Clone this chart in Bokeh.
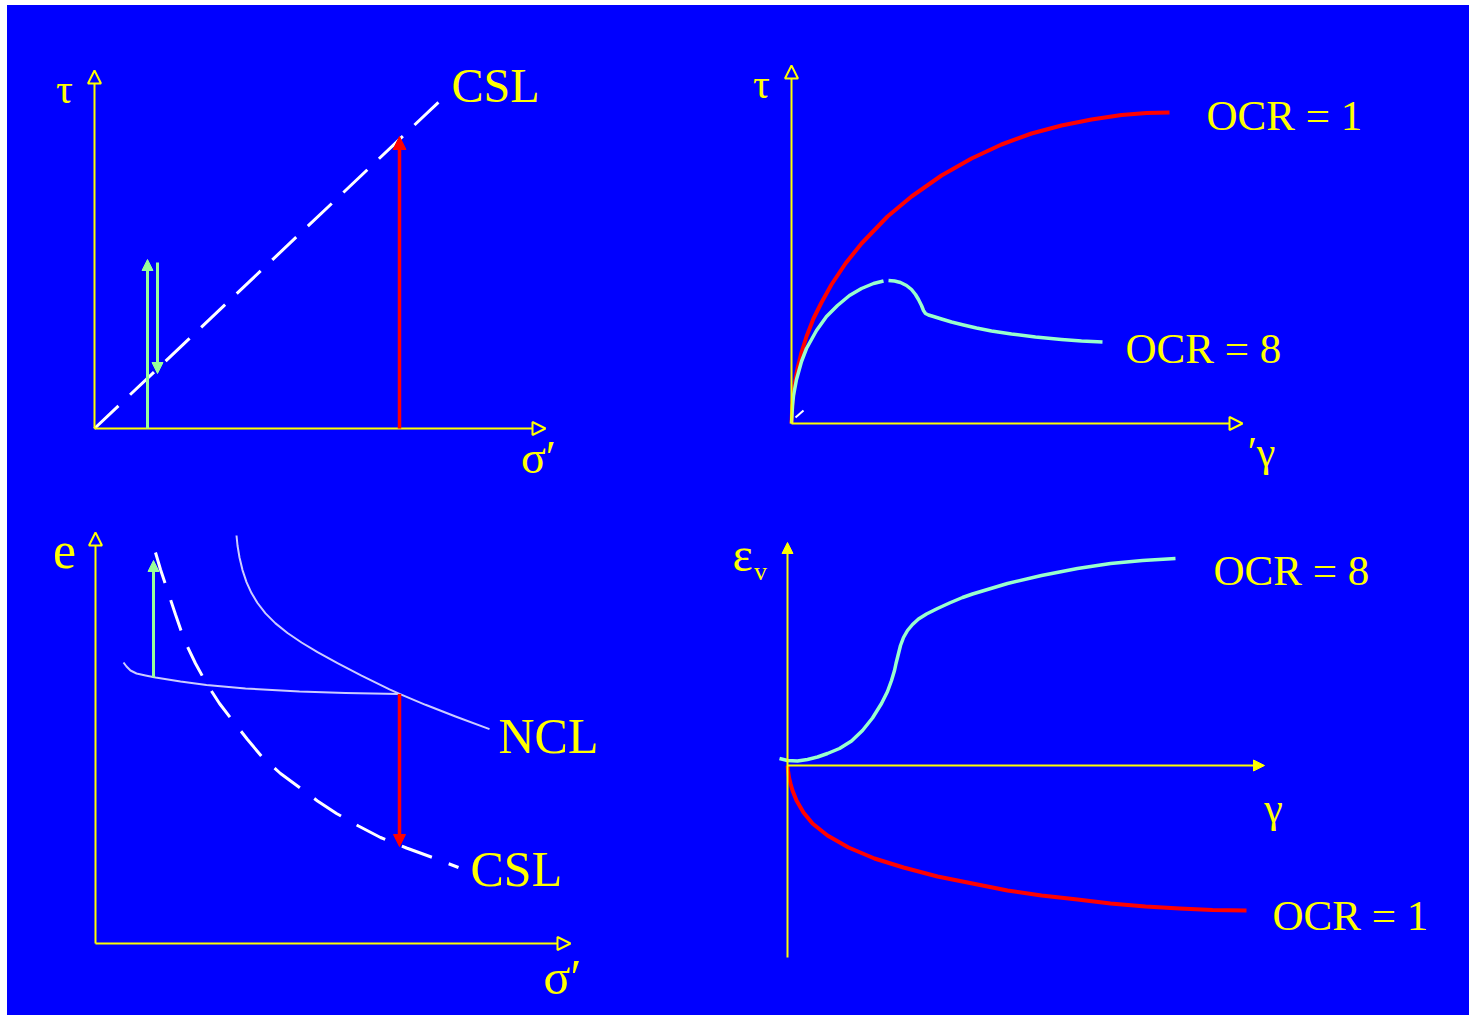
from bokeh.plotting import figure
from bokeh.models import Range1d, Arrow, NormalHead, Spacer
from bokeh.layouts import row, column
from bokeh.core.properties import value
from bokeh.embed import file_html
from bokeh.resources import INLINE

BLUE = "#0000ff"
YELLOW = "#ffff00"
RED = "#ff0000"
GREEN = "#99ff99"
MINT = "#99ffcc"
WHITE = "#ffffff"
LAVENDER = "#ccccff"
FONT = "Liberation Serif"

# ---- panel 1: tau vs sigma' (stress path) ----
p1_x_axis_len = 451
p1_y_axis_len = 358
p1_csl_x = [0, 349]
p1_csl_y = [0, 331]
p1_red_x = 305
p1_red_top = 292
p1_green_up_x = 53
p1_green_up_top = 169
p1_green_down_x = 63
p1_green_down_from = 166
p1_green_down_to = 55

# ---- panel 2: tau vs gamma ----
p2_x_axis_len = 451
p2_y_axis_len = 358
p2_ocr1_x = [0, 1, 3, 6, 10, 15, 22, 30, 40, 54, 70, 96, 120, 150, 180, 210, 240, 270, 300, 330, 355, 378]
p2_ocr1_y = [0, 22, 39, 55, 71, 87, 105, 121, 139, 160, 180, 207, 227, 248, 265, 279, 290, 298, 304, 308.5, 310.4, 311]
p2_ocr8_a_x = [0, 1, 2, 5, 10, 15, 25, 35, 46, 58, 70, 82, 92]
p2_ocr8_a_y = [0, 18, 28, 44, 62, 75, 93, 107, 118, 128, 135, 140, 142.5]
p2_ocr8_b_x = [97, 103, 109, 115, 120, 124, 127, 130, 132, 134, 137, 142, 150, 160, 172, 185, 200, 220, 244, 270, 290, 311]
p2_ocr8_b_y = [143, 142.5, 141, 138, 134, 129, 124, 118, 113, 110, 108.5, 107, 104.5, 101.5, 98.5, 95.5, 92.5, 89.5, 86.5, 84, 82.5, 81.5]
p2_tick_x = [4, 12]
p2_tick_y = [6, 13]

# ---- panel 3: void ratio e vs sigma' ----
p3_x_axis_len = 475
p3_y_axis_len = 411
p3_ncl_x = [141, 142, 144, 147, 151, 156, 162, 170, 180, 192, 206, 222, 242, 266, 294, 304, 330, 360, 394]
p3_ncl_y = [408, 398, 386, 373.4, 361.4, 350.4, 340.5, 330.1, 320.1, 310.5, 301, 291.4, 280.4, 267.9, 254.2, 249.6, 238.7, 227, 214.4]
p3_url_x = [28, 31, 35, 41, 50, 60, 85, 111, 150, 204, 250, 304]
p3_url_y = [281, 277, 273, 270, 268, 266, 262, 258.5, 255, 252, 250.5, 249.6]
p3_csl_x = [60, 65, 71, 80, 89, 100, 111, 124, 137, 152, 167, 185, 204, 222, 241, 263, 285, 311, 337, 350, 363]
p3_csl_y = [391, 374, 356, 329, 303, 280, 260, 240, 223, 204, 186, 170, 156, 142.5, 130, 117.5, 106, 95.5, 86, 81, 76]
p3_red_x = 304
p3_red_from = 249.6
p3_red_to = 97
p3_green_x = 58
p3_green_from = 266
p3_green_to = 383

# ---- panel 4: volumetric strain vs gamma ----
p4_x_axis_len = 477
p4_y_axis_top = 223
p4_y_axis_bottom = -192
p4_ocr8_x = [-8, 0, 10, 20, 30, 40, 52, 64, 75, 85, 94, 100, 104, 107, 108.5, 110, 111.5, 113, 116, 120, 125,
             131, 139, 150, 162, 175, 185, 220, 254, 290, 323, 355, 388]
p4_ocr8_y = [7, 5, 4.5, 6, 8.5, 12, 17, 24.5, 35, 47.5, 62, 74, 85, 95, 102, 108, 114, 120, 128, 135, 141,
             146.5, 151.5, 157, 162.5, 168, 171.5, 182, 190, 197, 202, 205, 207]
p4_ocr1_x = [0, 0.5, 1.5, 3, 5, 9, 16, 25, 40, 61, 87, 116, 150, 185, 220, 254, 290, 323, 358, 392, 425, 459]
p4_ocr1_y = [0, -5, -12, -18, -25, -35, -47, -58, -70, -82, -93, -102, -111, -118, -125, -130, -134, -138, -141, -143, -144.5, -145]


def panel(width, height, x0, y0):
    p = figure(width=width, height=height, output_backend="svg", toolbar_location=None,
               x_range=Range1d(x0, x0 + width), y_range=Range1d(y0, y0 + height),
               min_border=0, background_fill_color=BLUE, border_fill_color=BLUE,
               outline_line_color=None, styles={"background-color": BLUE})
    p.axis.visible = False
    p.grid.visible = False
    return p


def arrow(p, x0, y0, x1, y1, color, lw, size, hollow=False):
    if hollow:
        head = NormalHead(size=size, fill_color=BLUE, line_color=color, line_width=2)
    else:
        head = NormalHead(size=size, fill_color=color, line_color=color, line_width=1)
    p.add_layout(Arrow(end=head, x_start=x0, y_start=y0, x_end=x1, y_end=y1,
                       line_color=color, line_width=lw))


def label(p, x, y, s, size, align="left"):
    p.text(x=[x], y=[y], text=[s], text_color=YELLOW, text_font=value(FONT),
           text_font_size=f"{size}px", text_align=align, text_baseline="middle")


# panel 1
p1 = panel(693, 490, -87, -67)
p1.line(p1_csl_x, p1_csl_y, line_color=WHITE, line_width=3, line_dash="33 16")
arrow(p1, 0, 0, p1_x_axis_len, 0, YELLOW, 2, 13, hollow=True)
arrow(p1, 0, 0, 0, p1_y_axis_len, YELLOW, 2, 13, hollow=True)
arrow(p1, p1_red_x, 0, p1_red_x, p1_red_top, RED, 3.5, 13)
arrow(p1, p1_green_up_x, 0, p1_green_up_x, p1_green_up_top, GREEN, 3, 11)
arrow(p1, p1_green_down_x, p1_green_down_from, p1_green_down_x, p1_green_down_to, GREEN, 3, 11)
label(p1, -30, 340, "τ", 42, "center")
label(p1, 444, -29, "σ′", 46, "center")
label(p1, 357, 343, "CSL", 48)

# panel 2
p2 = panel(769, 490, -91, -72)
p2.line(p2_ocr1_x, p2_ocr1_y, line_color=RED, line_width=4, line_join="round")
p2.line(p2_ocr8_a_x, p2_ocr8_a_y, line_color=MINT, line_width=3.5, line_join="round")
p2.line(p2_ocr8_b_x, p2_ocr8_b_y, line_color=MINT, line_width=3.5, line_join="round")
p2.line(p2_tick_x, p2_tick_y, line_color=WHITE, line_width=2)
arrow(p2, 0, 0, p2_x_axis_len, 0, YELLOW, 2, 13, hollow=True)
arrow(p2, 0, 0, 0, p2_y_axis_len, YELLOW, 2, 13, hollow=True)
label(p2, -30, 340, "τ", 42, "center")
label(p2, 470, -28, "′γ", 42, "center")
label(p2, 415, 308, "OCR = 1", 43)
label(p2, 334, 75, "OCR = 8", 43)

# panel 3
p3 = panel(693, 520, -88, -72)
p3.line(p3_ncl_x, p3_ncl_y, line_color=LAVENDER, line_width=2, line_join="round")
p3.line(p3_url_x, p3_url_y, line_color=LAVENDER, line_width=2, line_join="round")
p3.line(p3_csl_x, p3_csl_y, line_color=WHITE, line_width=3, line_dash="32 18")
arrow(p3, 0, 0, p3_x_axis_len, 0, YELLOW, 2, 13, hollow=True)
arrow(p3, 0, 0, 0, p3_y_axis_len, YELLOW, 2, 13, hollow=True)
arrow(p3, p3_red_x, p3_red_from, p3_red_x, p3_red_to, RED, 3.5, 12)
arrow(p3, p3_green_x, p3_green_from, p3_green_x, p3_green_to, GREEN, 3, 11)
label(p3, -31, 393, "e", 52, "center")
label(p3, 467, -33, "σ′", 50, "center")
label(p3, 403, 208, "NCL", 50)
label(p3, 375, 75, "CSL", 50)

# panel 4
p4 = panel(769, 520, -87, -250)
p4.line(p4_ocr8_x, p4_ocr8_y, line_color=MINT, line_width=3.5, line_join="round")
p4.line(p4_ocr1_x, p4_ocr1_y, line_color=RED, line_width=4, line_join="round")
arrow(p4, 0, 0, p4_x_axis_len, 0, YELLOW, 2, 11)
arrow(p4, 0, p4_y_axis_bottom, 0, p4_y_axis_top, YELLOW, 2, 11)
label(p4, -45, 211, "ε", 48, "center")
label(p4, -27, 194, "v", 26, "center")
label(p4, 486, -42, "γ", 42, "center")
label(p4, 426, 195, "OCR = 8", 43)
label(p4, 485, -150, "OCR = 1", 43)

top_row = row(p1, p2, styles={"background-color": BLUE})
bottom_row = row(p3, p4, styles={"background-color": BLUE})
grid = column(top_row, bottom_row, styles={"background-color": BLUE})
page = column(Spacer(width=1469, height=5), row(Spacer(width=7, height=1010), grid))

open("out.html", "w").write(file_html(page, INLINE))
